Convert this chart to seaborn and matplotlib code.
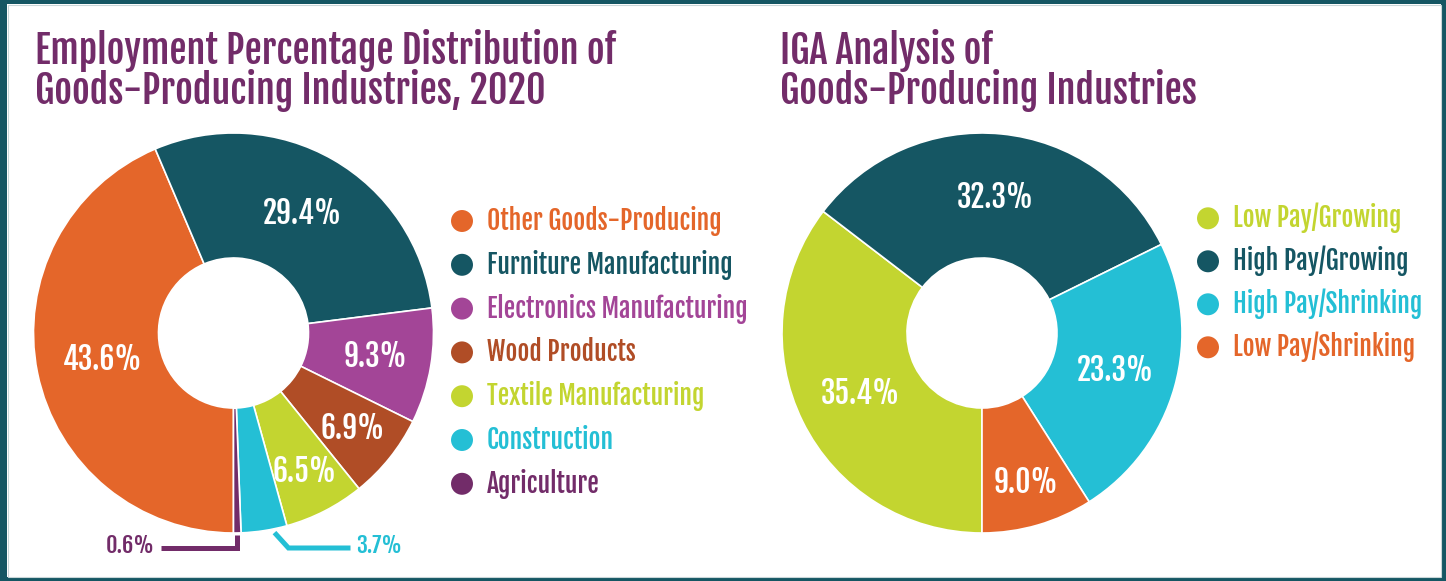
import os
import numpy as np
import matplotlib
matplotlib.use('Agg')
import matplotlib.pyplot as plt
from matplotlib import font_manager
from matplotlib.patches import Rectangle
import seaborn as sns

sns.set_style('white')

# ---- data ----
industries = ['Other Goods-Producing', 'Furniture Manufacturing', 'Electronics Manufacturing',
              'Wood Products', 'Textile Manufacturing', 'Construction', 'Agriculture']
industry_share = [43.6, 29.4, 9.3, 6.9, 6.5, 3.7, 0.6]

iga_groups = ['Low Pay/Growing', 'High Pay/Growing', 'High Pay/Shrinking', 'Low Pay/Shrinking']
iga_share = [35.4, 32.3, 23.3, 9.0]

left_title = ['Employment Percentage Distribution of', 'Goods-Producing Industries, 2020']
right_title = ['IGA Analysis of', 'Goods-Producing Industries']

# ---- colours ----
ORANGE, TEAL, MAGENTA, BROWN = '#E4662A', '#155663', '#A34597', '#B04D26'
LIME, CYAN, PLUM = '#C3D530', '#24BFD5', '#722C69'
industry_colors = sns.color_palette([ORANGE, TEAL, MAGENTA, BROWN, LIME, CYAN, PLUM])
iga_colors = sns.color_palette([LIME, TEAL, CYAN, ORANGE])

W, H = 1446, 581


def pick_font():
    # narrowest font we can find, the original uses a condensed display face
    prefer = ['FjallaOne-Regular', 'Oswald-Regular', 'Oswald-Medium',
              'NotoSans-ExtraCondensedMedium', 'NotoSans-ExtraCondensed',
              'RobotoCondensed-Medium', 'RobotoCondensed-Regular',
              'LiberationSansNarrow-Regular', 'NotoSans-CondensedMedium',
              'NotoSans-Condensed', 'OpenSans-CondensedMedium', 'DejaVuSansCondensed']
    files = {os.path.splitext(os.path.basename(f.fname))[0]: f.fname
             for f in font_manager.fontManager.ttflist}
    for p in prefer:
        if p in files:
            return font_manager.FontProperties(fname=files[p])
    return font_manager.FontProperties(family='DejaVu Sans')


FP = pick_font()

fig = plt.figure(figsize=(W / 100, H / 100), dpi=100)
renderer = fig.canvas.get_renderer()


def fit_size(s, target_px):
    t = fig.text(0, 0, s, fontproperties=FP, fontsize=30)
    w = t.get_window_extent(renderer).width
    t.remove()
    return 30 * target_px / w


title_size = fit_size(left_title[0], 582)
legend_size = fit_size('Electronics Manufacturing', 260)
pct_size = fit_size('29.4%', 79)
small_size = fit_size('0.6%', 49)


def cap_px(size):
    return size * 100 / 72 * 0.71


# overlay axes in pixel coordinates for titles, legends and frame
ov = fig.add_axes([0, 0, 1, 1])
ov.set_xlim(0, W)
ov.set_ylim(H, 0)
ov.axis('off')

# frame
for x, y, w, h in [(0, 0, 7, H), (0, 0, W, 4), (W - 5, 0, 5, H), (0, H - 4, W, 4)]:
    ov.add_patch(Rectangle((x, y), w, h, color=TEAL, lw=0))
ov.add_patch(Rectangle((7.5, 4.5), W - 13, H - 9, fill=False, ec='#c9d6d8', lw=0.8))

# titles
for (x0, lines) in [(35, left_title), (780, right_title)]:
    for line, base in zip(lines, [64, 104]):
        ov.text(x0, base, line, fontproperties=FP, fontsize=title_size,
                color=PLUM, ha='left', va='baseline')


def draw_legend(labels, colors, mx, tx, y0, step):
    ys = y0 + step * np.arange(len(labels))
    ov.scatter([mx] * len(labels), ys, s=250, c=colors, linewidths=0)
    for lab, col, y in zip(labels, colors, ys):
        ov.text(tx, y + cap_px(legend_size) / 2, lab, fontproperties=FP,
                fontsize=legend_size, color=col, ha='left', va='baseline')


draw_legend(industries, industry_colors, 462, 487, 221, 43.8)
draw_legend(iga_groups, iga_colors, 1208, 1233, 218.3, 43)


def draw_donut(cx, cy, values, colors, dists):
    ax = fig.add_axes([(cx - 250) / W, 1 - (cy + 250) / H, 500 / W, 500 / H])
    wedges, _ = ax.pie(values, colors=colors, startangle=-90, counterclock=False,
                       radius=1, wedgeprops=dict(width=0.625, edgecolor='white', linewidth=1.2))
    ax.set_xlim(-1.25, 1.25)
    ax.set_ylim(-1.25, 1.25)
    ax.set_aspect('equal')
    off = -cap_px(pct_size) / 2 * 0.72
    for w, v, d in zip(wedges, values, dists):
        if d is None:
            continue
        a = np.deg2rad((w.theta1 + w.theta2) / 2)
        ax.annotate(f'{v:.1f}%', (d * np.cos(a), d * np.sin(a)), xytext=(0, off),
                    textcoords='offset points', ha='center', va='baseline',
                    color='white', fontproperties=FP, fontsize=pct_size)
    return ax, wedges


axl, wl = draw_donut(233.5, 333, industry_share, industry_colors,
                     [0.67, 0.69, 0.72, 0.76, 0.78, None, None])
axr, wr = draw_donut(982, 333, iga_share, iga_colors, [0.68, 0.68, 0.69, 0.78])

# leader lines for the two thin slices
small_off = -cap_px(small_size) / 2 * 0.72
a = np.deg2rad((wl[6].theta1 + wl[6].theta2) / 2)
xa = np.cos(a)
axl.plot([xa, xa, -0.36], [-1.01, -1.075, -1.075], color=PLUM, lw=3.6,
         solid_joinstyle='miter', solid_capstyle='butt', clip_on=False)
axl.annotate(f'{industry_share[6]:.1f}%', (-0.395, -1.06), xytext=(0, small_off),
             textcoords='offset points', ha='right', va='baseline', color=PLUM,
             fontproperties=FP, fontsize=small_size, annotation_clip=False)

a = np.deg2rad((wl[5].theta1 + wl[5].theta2) / 2)
xc, yc = 1.01 * np.cos(a), 1.01 * np.sin(a)
axl.plot([xc + 0.05, xc + 0.12, 0.585], [yc, -1.075, -1.075], color=CYAN, lw=3.6,
         solid_joinstyle='miter', solid_capstyle='butt', clip_on=False)
axl.annotate(f'{industry_share[5]:.1f}%', (0.615, -1.06), xytext=(0, small_off),
             textcoords='offset points', ha='left', va='baseline', color=CYAN,
             fontproperties=FP, fontsize=small_size, annotation_clip=False)

fig.savefig('out.png', dpi=100)
